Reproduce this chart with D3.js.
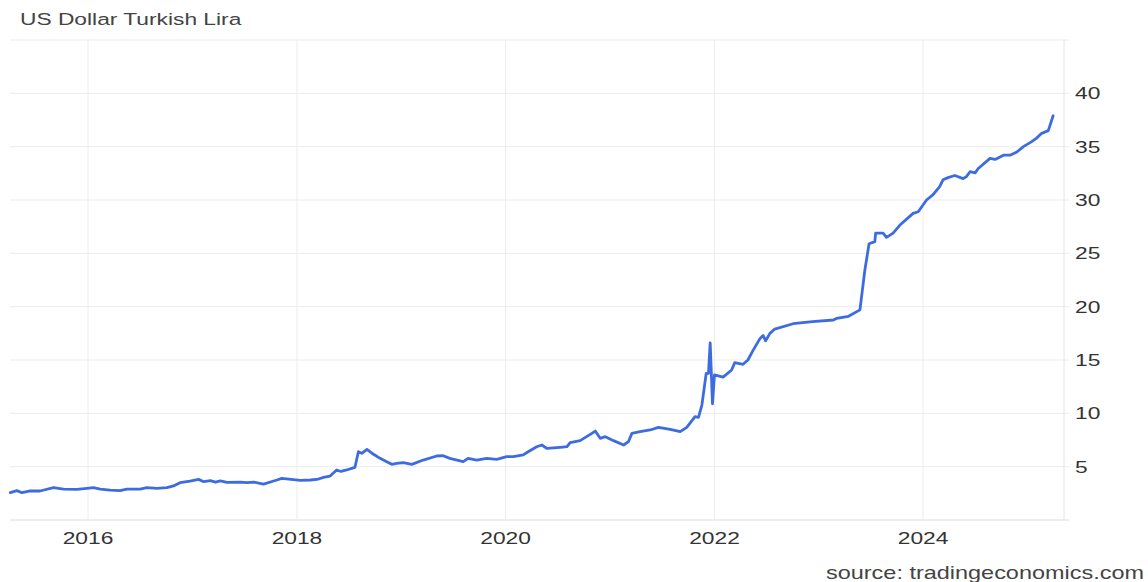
<!DOCTYPE html>
<html>
<head>
<meta charset="utf-8">
<script src="https://cdn.jsdelivr.net/npm/d3@7"></script>
<style>
  html, body { margin: 0; padding: 0; background: #fff; }
  svg { display: block; }
  text { font-family: "Liberation Sans", Arial, Helvetica, sans-serif; }
</style>
</head>
<body>
<svg id="chart" width="1148" height="582"></svg>
<script>
// ---- data ----
const title = "US Dollar Turkish Lira";
const source = "source: tradingeconomics.com";
const dates = [
  "2015-04-04","2015-04-27","2015-05-15","2015-06-13","2015-07-17","2015-09-02","2015-10-07","2015-11-23","2015-12-28",
  "2016-01-20","2016-02-13","2016-03-18","2016-04-22","2016-05-16","2016-07-01","2016-07-25","2016-08-29","2016-10-03","2016-10-26","2016-11-18","2016-12-23",
  "2017-01-22","2017-02-09","2017-03-04","2017-03-22","2017-04-08","2017-05-01","2017-06-17","2017-07-10","2017-08-02","2017-09-06","2017-10-23","2017-11-09",
  "2018-01-13","2018-02-17","2018-03-12","2018-04-04","2018-04-27","2018-05-20","2018-06-04","2018-06-24","2018-07-23","2018-08-04","2018-08-16","2018-09-03","2018-09-26","2018-10-19","2018-11-11","2018-11-29","2018-12-16",
  "2019-01-08","2019-02-07","2019-03-19","2019-05-05","2019-05-28","2019-06-20","2019-08-06","2019-08-23","2019-09-22","2019-10-27","2019-12-01",
  "2020-01-05","2020-01-28","2020-03-03","2020-03-20","2020-04-19","2020-05-07","2020-05-24","2020-07-10","2020-08-03","2020-08-14","2020-09-18","2020-10-29","2020-11-10","2020-11-27","2020-12-15",
  "2021-01-13","2021-02-17","2021-03-06","2021-03-18","2021-04-16","2021-05-21","2021-06-19","2021-07-30","2021-09-03","2021-09-26","2021-10-25","2021-11-06","2021-11-18","2021-12-03","2021-12-11","2021-12-17","2021-12-25",
  "2022-01-01","2022-01-31","2022-03-02","2022-03-13","2022-04-11","2022-04-28","2022-05-16","2022-06-09","2022-06-20","2022-06-29","2022-07-14","2022-07-31","2022-10-03","2022-12-10",
  "2023-02-21","2023-03-04","2023-04-15","2023-05-25","2023-06-11","2023-06-26","2023-07-16","2023-07-19","2023-08-14","2023-08-26","2023-09-18","2023-10-12","2023-11-27","2023-12-15",
  "2024-01-13","2024-02-05","2024-02-28","2024-03-11","2024-03-28","2024-04-21","2024-05-20","2024-06-01","2024-06-13","2024-07-01","2024-07-12","2024-08-22","2024-09-09","2024-10-08","2024-10-31","2024-11-24","2024-12-17",
  "2025-01-15","2025-02-01","2025-02-19","2025-03-14","2025-03-31"
];
const values = [
  2.56,2.75,2.56,2.72,2.72,3.03,2.90,2.87,2.97,
  3.03,2.90,2.81,2.75,2.90,2.90,3.03,2.97,3.03,3.19,3.50,3.65,
  3.81,3.59,3.69,3.56,3.66,3.53,3.56,3.50,3.56,3.37,3.75,3.90,
  3.72,3.75,3.80,4.00,4.12,4.69,4.55,4.69,4.94,6.40,6.25,6.62,6.16,5.78,5.47,5.22,5.31,
  5.37,5.22,5.62,6.00,6.03,5.78,5.47,5.78,5.62,5.78,5.69,
  5.94,5.94,6.10,6.40,6.87,7.03,6.72,6.81,6.87,7.25,7.44,8.12,8.34,7.66,7.81,
  7.44,7.03,7.34,8.12,8.28,8.44,8.69,8.50,8.28,8.69,9.69,9.62,10.78,13.75,13.75,16.60,10.90,
  13.60,13.40,14.06,14.75,14.60,15.00,15.90,17.00,17.30,16.80,17.50,17.90,18.40,18.60,
  18.75,18.90,19.10,19.70,23.40,25.90,26.10,26.90,26.90,26.50,26.90,27.65,28.75,28.90,
  30.00,30.50,31.25,31.90,32.10,32.30,32.00,32.20,32.65,32.55,32.95,33.90,33.80,34.20,34.20,34.50,35.00,
  35.47,35.80,36.25,36.50,37.90
];
const xTickYears = [2016, 2018, 2020, 2022, 2024];
const yTicks = [5, 10, 15, 20, 25, 30, 35, 40];
const yGrid = [0, 5, 10, 15, 20, 25, 30, 35, 40, 45];

// ---- layout ----
const plotLeft = 10, plotRight = 1064, plotTop = 40, plotBottom = 520;
const sx = 1.34;       // horizontal stretch of the reference text
const fs = 17;

const parse = d3.timeParse("%Y-%m-%d");
const data = dates.map((d, i) => ({ date: parse(d), value: values[i] }));

const x = d3.scaleTime()
  .domain([parse("2015-04-03"), parse("2025-05-08")])
  .range([plotLeft, plotRight]);
const y = d3.scaleLinear().domain([0, 45]).range([plotBottom, plotTop]);

const svg = d3.select("#chart");

// horizontal grid
svg.append("g").selectAll("line").data(yGrid).join("line")
  .attr("x1", plotLeft).attr("x2", plotRight + 5)
  .attr("y1", d => y(d)).attr("y2", d => y(d))
  .attr("stroke", d => d === 0 ? "#dcdcdc" : "#ececec")
  .attr("stroke-width", 1);

// vertical grid
svg.append("g").selectAll("line").data(xTickYears).join("line")
  .attr("x1", d => x(new Date(d, 0, 1))).attr("x2", d => x(new Date(d, 0, 1)))
  .attr("y1", plotTop).attr("y2", plotBottom)
  .attr("stroke", "#ececec").attr("stroke-width", 1);

// right border
svg.append("line")
  .attr("x1", plotRight).attr("x2", plotRight).attr("y1", plotTop).attr("y2", plotBottom)
  .attr("stroke", "#e4e4e4").attr("stroke-width", 1);

// x labels
svg.append("g").selectAll("text").data(xTickYears).join("text")
  .attr("transform", d => `translate(${x(new Date(d, 0, 1))},544) scale(${sx},1)`)
  .attr("text-anchor", "middle")
  .attr("font-size", fs).attr("fill", "#333")
  .text(d => d);

// y labels
svg.append("g").selectAll("text").data(yTicks).join("text")
  .attr("transform", d => `translate(1075,${y(d) + 6}) scale(${sx},1)`)
  .attr("text-anchor", "start")
  .attr("font-size", fs).attr("fill", "#333")
  .text(d => d);

// line
const line = d3.line().x(d => x(d.date)).y(d => y(d.value)).curve(d3.curveLinear);
svg.append("path").datum(data)
  .attr("d", line)
  .attr("fill", "none")
  .attr("stroke", "#3d6be0")
  .attr("stroke-width", 2.8)
  .attr("stroke-linejoin", "round")
  .attr("stroke-linecap", "round");

// title
svg.append("text")
  .attr("transform", `translate(20,25) scale(${sx},1)`)
  .attr("font-size", fs).attr("fill", "#444")
  .text(title);

// source
svg.append("text")
  .attr("transform", `translate(1144,579) scale(${sx},1)`)
  .attr("text-anchor", "end")
  .attr("font-size", 17.5).attr("fill", "#444")
  .text(source);
</script>
</body>
</html>
